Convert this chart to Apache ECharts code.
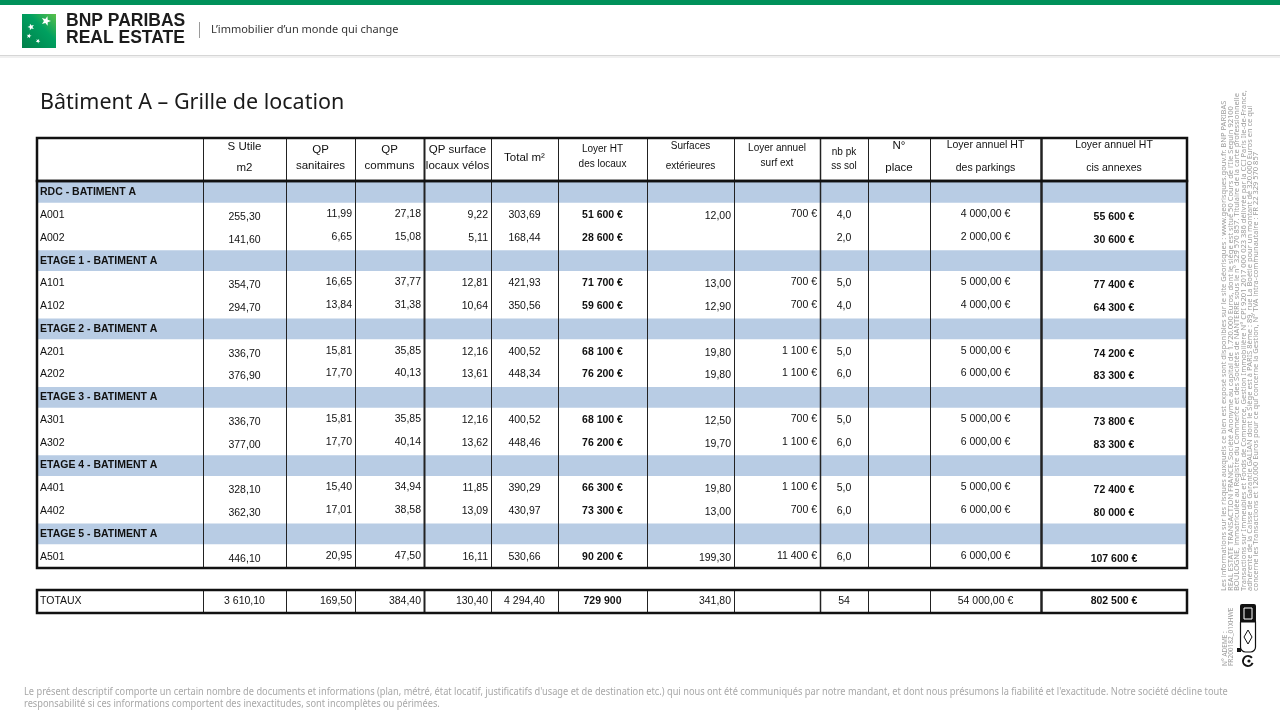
<!DOCTYPE html>
<html lang="fr">
<head>
<meta charset="utf-8">
<title>Bâtiment A – Grille de location</title>
<script src="https://cdn.jsdelivr.net/npm/echarts@6.0.0/dist/echarts.min.js"></script>
<style>
  html, body { margin: 0; padding: 0; background: #fff; }
  #chart { width: 1280px; height: 720px; }
</style>
</head>
<body>
<div id="chart"></div>
<script>
// ---- data ----
const floors = ['RDC - BATIMENT A', 'ETAGE 1 - BATIMENT A', 'ETAGE 2 - BATIMENT A',
  'ETAGE 3 - BATIMENT A', 'ETAGE 4 - BATIMENT A', 'ETAGE 5 - BATIMENT A']
const lots = ['A001', 'A002', 'A101', 'A102', 'A201', 'A202', 'A301', 'A302', 'A401', 'A402', 'A501']
const lotFloor = [0, 0, 1, 1, 2, 2, 3, 3, 4, 4, 5]

const sUtile = [255.30, 141.60, 354.70, 294.70, 336.70, 376.90, 336.70, 377.00, 328.10, 362.30, 446.10]
const qpSanitaires = [11.99, 6.65, 16.65, 13.84, 15.81, 17.70, 15.81, 17.70, 15.40, 17.01, 20.95]
const qpCommuns = [27.18, 15.08, 37.77, 31.38, 35.85, 40.13, 35.85, 40.14, 34.94, 38.58, 47.50]
const qpVelos = [9.22, 5.11, 12.81, 10.64, 12.16, 13.61, 12.16, 13.62, 11.85, 13.09, 16.11]
const totalM2 = [303.69, 168.44, 421.93, 350.56, 400.52, 448.34, 400.52, 448.46, 390.29, 430.97, 530.66]
const loyerLocaux = [51600, 28600, 71700, 59600, 68100, 76200, 68100, 76200, 66300, 73300, 90200]
const surfExt = [12.00, null, 13.00, 12.90, 19.80, 19.80, 12.50, 19.70, 19.80, 13.00, 199.30]
const loyerSurfExt = [700, null, 700, 700, 1100, 1100, 700, 1100, 1100, 700, 11400]
const nbPk = [4, 2, 5, 4, 5, 6, 5, 6, 5, 6, 6]
const nPlace = [null, null, null, null, null, null, null, null, null, null, null]
const loyerParkings = [4000, 2000, 5000, 4000, 5000, 6000, 5000, 6000, 5000, 6000, 6000]
const loyerTotal = [55600, 30600, 77400, 64300, 74200, 83300, 73800, 83300, 72400, 80000, 107600]

const totalsLabel = 'TOTAUX'
const totals = [3610.10, 169.50, 384.40, 130.40, 4294.40, 729900, 341.80, null, 54, null, 54000, 802500]

const headers = ['', 'S Utile\nm2', 'QP\nsanitaires', 'QP\ncommuns', 'QP surface\nlocaux vélos', 'Total m²',
  'Loyer HT\ndes locaux', 'Surfaces\nextérieures', 'Loyer annuel\nsurf ext', 'nb pk\nss sol', 'N°\nplace',
  'Loyer annuel HT\ndes parkings', 'Loyer annuel HT\ncis annexes']

const legalLines = [
  'Les informations sur les risques auxquels ce bien est exposé sont disponibles sur le site Géorisques : www.georisques.gouv.fr. BNP PARIBAS',
  'REAL ESTATE TRANSACTION FRANCE, Société Anonyme au capital de 1.720.000 Euros, dont le siège est situé 50 Cours de l\'Ile Seguin 92100',
  'BOULOGNE, immatriculée au Registre du Commerce et des Sociétés de NANTERRE sous le n° 329 570 857. Titulaire de la carte professionnelle',
  'Transactions sur Immeubles et Fonds de Commerce, Gestion Immobilière N° CPI 9201 2017 000 023 386 délivrée par la CCI Paris Ile-de-France,',
  'adhérente de la Caisse de Garantie GALIAN dont le Siège est à PARIS 8ème : 89, rue La Boétie pour un montant de 320.000 Euros en ce qui',
  'concerne les Transactions et 120.000 Euros pour ce qui concerne la Gestion, N° TVA intra-communautaire : FR 22 329 570 857'
]
const footerLines = [
  'Le présent descriptif comporte un certain nombre de documents et informations (plan, métré, état locatif, justificatifs d\'usage et de destination etc.) qui nous ont été communiqués par notre mandant, et dont nous présumons la fiabilité et l\'exactitude. Notre société décline toute',
  'responsabilité si ces informations comportent des inexactitudes, sont incomplètes ou périmées.'
]

// ---- layout ----
const colWidths = [166, 83, 69, 69, 67, 67, 89, 87, 86, 48, 62, 111, 146]
const edges = colWidths.reduce((acc, w) => { acc.push(acc[acc.length - 1] + w); return acc }, [0])
const tableWidth = edges[edges.length - 1]
const edgeWidth = [2.5, 1, 1, 1, 2, 1, 1, 1, 1, 1.5, 1, 1, 2.5, 2.5]
const bandColor = '#b8cce4'
const cellFont = "'Liberation Sans', Arial, sans-serif"

// header text: size, line height, vertical shift
const headSize = [11, 11.5, 11.5, 11.5, 11.5, 11.5, 10, 10, 10, 10, 11.5, 10.5, 10.5]
const headLine = [14, 21, 16, 16, 16, 14, 15, 20, 15, 14, 22, 23, 23]
const headDy = [0, -2, -1.5, -1.5, -1.5, -1.5, -3, -3.5, -4, -0.5, -2.5, -3, -3]

const fr = (v, d) => {
  if (v == null) return ''
  const parts = v.toFixed(d).split('.')
  const int = parts[0].replace(/\B(?=(\d{3})+(?!\d))/g, ' ')
  return parts[1] ? int + ',' + parts[1] : int
}
const dec2 = v => fr(v, 2)
const euro = v => v == null ? '' : fr(v, 0) + ' €'
const euro2 = v => v == null ? '' : fr(v, 2) + ' €'

const columns = [
  { align: 'left' },
  { values: sUtile, fmt: dec2, tfmt: dec2, align: 'center', dy: 2 },
  { values: qpSanitaires, fmt: dec2, tfmt: dec2, align: 'right', dy: -1 },
  { values: qpCommuns, fmt: dec2, tfmt: dec2, align: 'right', dy: -1 },
  { values: qpVelos, fmt: dec2, tfmt: dec2, align: 'right', dy: 0 },
  { values: totalM2, fmt: dec2, tfmt: dec2, align: 'center', dy: 0 },
  { values: loyerLocaux, fmt: euro, tfmt: v => fr(v, 0), align: 'center', bold: true, dy: 0 },
  { values: surfExt, fmt: dec2, tfmt: dec2, align: 'right', dy: 1 },
  { values: loyerSurfExt, fmt: euro, tfmt: euro, align: 'right', dy: -1 },
  { values: nbPk, fmt: v => fr(v, 1), tfmt: v => fr(v, 0), align: 'center', dy: 0 },
  { values: nPlace, fmt: v => fr(v, 0), tfmt: v => fr(v, 0), align: 'center', dy: 0 },
  { values: loyerParkings, fmt: euro2, tfmt: euro2, align: 'center', dy: -1 },
  { values: loyerTotal, fmt: euro, tfmt: euro, align: 'center', bold: true, dy: 2 }
]

// body rows: a blue band per floor followed by its lots
const rows = []
floors.forEach((f, fi) => {
  rows.push({ band: true, label: f })
  lots.forEach((l, li) => { if (lotFloor[li] === fi) rows.push({ band: false, label: l, lot: li }) })
})

const headCells = headers.map((h, ci) => ({
  col: ci, row: 0, text: h, align: 'center', size: headSize[ci], lineHeight: headLine[ci], dy: headDy[ci]
}))
const bodyCells = []
rows.forEach((r, ri) => {
  bodyCells.push({ col: 0, row: ri, text: r.label, align: 'left', bold: r.band, size: 10.5 })
  if (r.band) return
  columns.forEach((c, ci) => {
    if (ci === 0) return
    const v = c.values[r.lot]
    bodyCells.push({ col: ci, row: ri, text: v == null ? '' : c.fmt(v), align: c.align, bold: c.bold, dy: c.dy })
  })
})
const totalCells = [{ col: 0, row: 0, text: totalsLabel, align: 'left' }]
totals.forEach((v, k) => {
  const c = columns[k + 1]
  totalCells.push({ col: k + 1, row: 0, text: v == null ? '' : c.tfmt(v), align: c.align, bold: c.bold })
})

// ---- renderers ----
const cellSeries = (idx, cells) => ({
  type: 'custom', xAxisIndex: idx, yAxisIndex: idx, z: 5, silent: true,
  data: cells.map(c => [edges[c.col], c.row]),
  renderItem: (params, api) => {
    const c = cells[params.dataIndex]
    const p0 = api.coord([edges[c.col], c.row])
    const p1 = api.coord([edges[c.col + 1], c.row])
    const x = c.align === 'left' ? p0[0] + 3 : c.align === 'right' ? p1[0] - 3 : (p0[0] + p1[0]) / 2
    return {
      type: 'text', x: x, y: p0[1] + (c.dy || 0),
      style: {
        text: c.text, fill: '#111', fontFamily: cellFont, fontSize: c.size || 10.5,
        fontWeight: c.bold ? 'bold' : 'normal', lineHeight: c.lineHeight || 14,
        align: c.align, textAlign: c.align, verticalAlign: 'middle', textVerticalAlign: 'middle'
      }
    }
  }
})

const edgeSeries = idx => ({
  type: 'custom', xAxisIndex: idx, yAxisIndex: idx, z: 3, silent: true,
  data: edges.slice(1, -1).map((e, k) => [e, 0, k + 1]),
  renderItem: (params, api) => {
    const x = Math.round(api.coord([api.value(0), 0])[0]) + 0.5
    const cs = params.coordSys
    return {
      type: 'line',
      shape: { x1: x, y1: cs.y, x2: x, y2: cs.y + cs.height },
      style: { stroke: '#222', lineWidth: edgeWidth[api.value(2)] }
    }
  }
})

const frameSeries = idx => ({
  type: 'custom', xAxisIndex: idx, yAxisIndex: idx, z: 4, silent: true,
  data: [[0, 0]],
  renderItem: (params) => {
    const cs = params.coordSys
    return {
      type: 'rect',
      shape: { x: cs.x, y: cs.y, width: cs.width, height: cs.height },
      style: { fill: 'none', stroke: '#111', lineWidth: 2.5 }
    }
  }
})

const bandSeries = {
  type: 'custom', xAxisIndex: 1, yAxisIndex: 1, z: 1, silent: true,
  data: rows.map((r, ri) => r.band ? [0, ri] : null).filter(d => d),
  renderItem: (params, api) => {
    const ri = api.value(1)
    const p0 = api.coord([0, ri])
    const p1 = api.coord([tableWidth, ri])
    const h = api.size([0, 1])[1]
    return {
      type: 'rect',
      shape: { x: p0[0], y: p0[1] - h / 2 + 1, width: p1[0] - p0[0], height: h - 2 },
      style: { fill: bandColor }
    }
  }
}

// ---- page decoration ----
const starPoints = (cx, cy, r, rot) => {
  const pts = []
  for (let i = 0; i < 10; i++) {
    const a = rot + i * Math.PI / 5
    const rr = i % 2 ? r * 0.42 : r
    pts.push([cx + rr * Math.sin(a), cy - rr * Math.cos(a)])
  }
  return pts
}

const graphic = [
  { type: 'rect', shape: { x: 0, y: 0, width: 1280, height: 5 }, style: { fill: '#00915a' } },
  { type: 'rect', shape: { x: 0, y: 55, width: 1280, height: 1 }, style: { fill: '#d6d6d6' } },
  { type: 'rect', shape: { x: 0, y: 56, width: 1280, height: 2 }, style: { fill: '#f0f0f0' } },
  {
    type: 'rect', shape: { x: 22, y: 14, width: 34, height: 34 },
    style: {
      fill: new echarts.graphic.LinearGradient(0, 1, 1, 0, [
        { offset: 0, color: '#00804a' }, { offset: 0.6, color: '#00a060' }, { offset: 1, color: '#5cc04a' }
      ])
    }
  },
  { type: 'polygon', shape: { points: starPoints(46, 21, 5, 0.3) }, style: { fill: '#fff' } },
  { type: 'polygon', shape: { points: starPoints(31, 27, 3.5, -0.3) }, style: { fill: '#fff' } },
  { type: 'polygon', shape: { points: starPoints(29, 36, 2.6, 0.2) }, style: { fill: '#fff' } },
  { type: 'polygon', shape: { points: starPoints(38, 41, 2.4, 0.5) }, style: { fill: '#fff' } },
  {
    type: 'text', x: 66, y: 12,
    style: { text: 'BNP PARIBAS\nREAL ESTATE', fontFamily: cellFont, fontWeight: 'bold', fontSize: 17.5, lineHeight: 17.5, fill: '#1c1c1c' }
  },
  { type: 'rect', shape: { x: 199, y: 22, width: 1, height: 16 }, style: { fill: '#9a9a9a' } },
  {
    type: 'text', x: 211, y: 30,
    style: { text: 'L\u2019immobilier d\u2019un monde qui change', fontFamily: "'Noto Sans', sans-serif", fontSize: 11, fill: '#333', verticalAlign: 'middle', textVerticalAlign: 'middle' }
  },
  {
    type: 'text', x: 40, y: 103,
    style: { text: 'Bâtiment A – Grille de location', fontFamily: "'Noto Sans', sans-serif", fontSize: 21.5, fill: '#1a1a1a', verticalAlign: 'middle', textVerticalAlign: 'middle' }
  },
  {
    type: 'text', x: 24, y: 686, scaleX: 0.925,
    style: { text: footerLines.join('\n'), fontFamily: "'Noto Sans', sans-serif", fontSize: 10, lineHeight: 12, fill: '#a8a8a8' }
  },
  {
    type: 'text', x: 1221, y: 591, rotation: Math.PI / 2,
    style: { text: legalLines.join('\n'), fontFamily: "'Noto Sans', sans-serif", fontSize: 7.5, lineHeight: 6.4, fill: '#9c9c9c', align: 'left', textAlign: 'left', verticalAlign: 'top', textVerticalAlign: 'top' }
  },
  {
    type: 'text', x: 1222, y: 666, rotation: Math.PI / 2,
    style: { text: 'N° ADEME :\nFR200182_01XHWE', fontFamily: "'Noto Sans', sans-serif", fontSize: 6.5, lineHeight: 6, fill: '#9c9c9c', align: 'left', textAlign: 'left', verticalAlign: 'top', textVerticalAlign: 'top' }
  },
  // ADEME / Triman marks
  { type: 'rect', shape: { x: 1240, y: 604, width: 16, height: 20, r: 2 }, style: { fill: '#111' } },
  { type: 'rect', shape: { x: 1244, y: 608, width: 8, height: 11 }, style: { fill: 'none', stroke: '#fff', lineWidth: 1 } },
  { type: 'rect', shape: { x: 1240.5, y: 622, width: 15, height: 30, r: [0, 0, 5, 5] }, style: { fill: '#fff', stroke: '#111', lineWidth: 1.2 } },
  { type: 'polygon', shape: { points: [[1248, 630], [1252, 637], [1248, 644], [1244, 637]] }, style: { fill: 'none', stroke: '#111', lineWidth: 1 } },
  { type: 'rect', shape: { x: 1237, y: 648, width: 4, height: 4 }, style: { fill: '#111' } },
  { type: 'arc', shape: { cx: 1248, cy: 661, r: 5, startAngle: 0.4, endAngle: 5.6 }, style: { stroke: '#111', lineWidth: 2, fill: 'none' } },
  { type: 'circle', shape: { cx: 1249, cy: 661, r: 1.6 }, style: { fill: '#111' } }
]

// ---- chart ----
const chart = echarts.init(document.getElementById('chart'))
const axisX = idx => ({ type: 'value', gridIndex: idx, min: 0, max: tableWidth, show: false })
chart.setOption({
  animation: false,
  backgroundColor: '#fff',
  grid: [
    { left: 37, top: 138, width: tableWidth, height: 43 },
    { left: 37, top: 181, width: tableWidth, height: 387 },
    { left: 37, top: 590, width: tableWidth, height: 23 }
  ],
  xAxis: [axisX(0), axisX(1), axisX(2)],
  yAxis: [
    { type: 'category', gridIndex: 0, data: ['header'], show: false },
    { type: 'category', gridIndex: 1, data: rows.map(r => r.label), inverse: true, show: false },
    { type: 'category', gridIndex: 2, data: [totalsLabel], show: false }
  ],
  graphic: graphic,
  series: [
    bandSeries,
    edgeSeries(0), edgeSeries(1), edgeSeries(2),
    frameSeries(0), frameSeries(1), frameSeries(2),
    cellSeries(0, headCells), cellSeries(1, bodyCells), cellSeries(2, totalCells)
  ]
})
</script>
</body>
</html>
